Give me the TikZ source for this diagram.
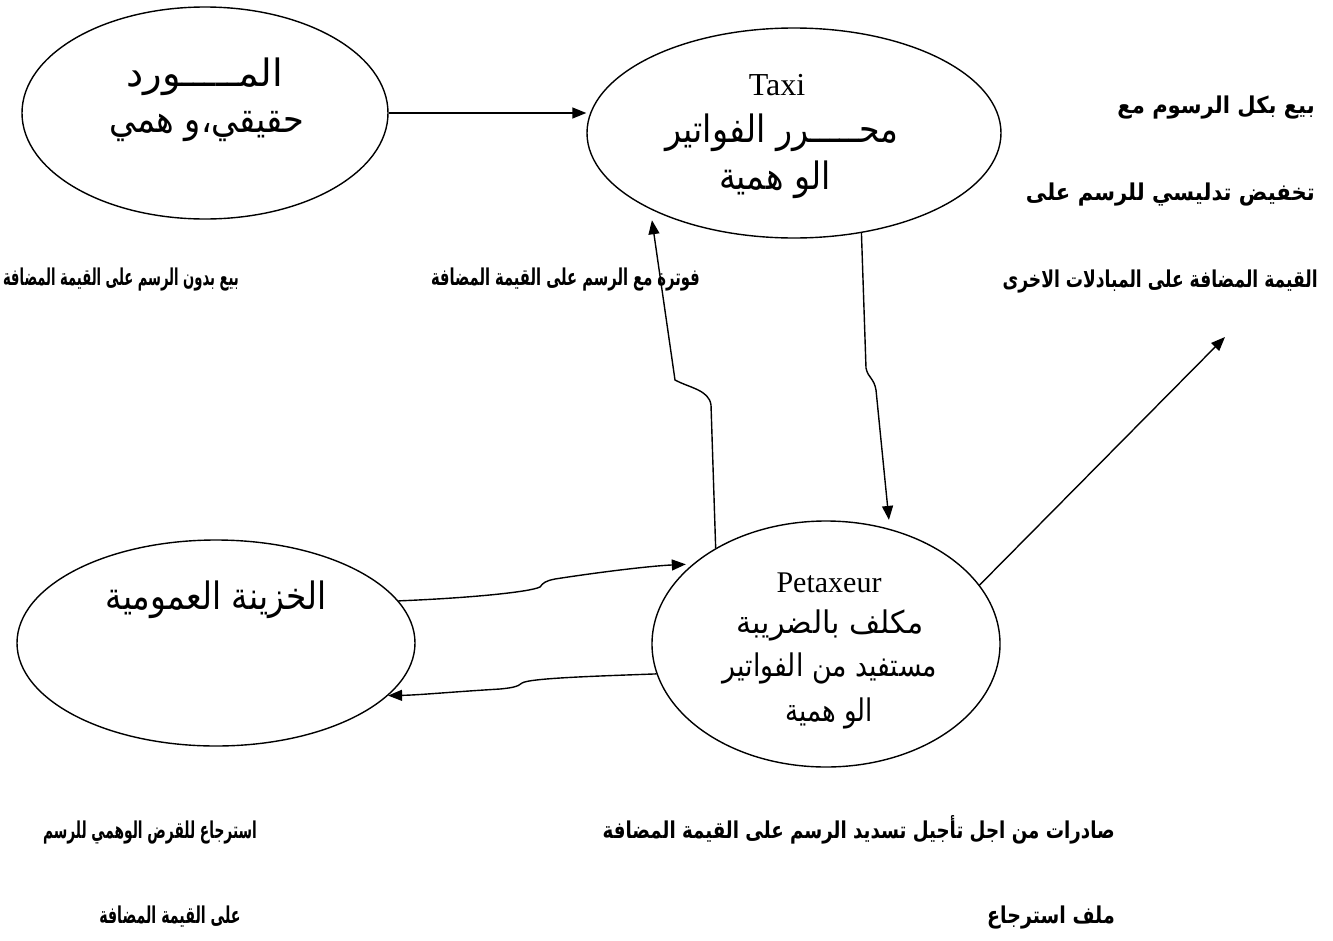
\documentclass[tikz,border=0pt]{standalone}
\usepackage{fontspec}
\usepackage{graphicx}
\setmainfont{Liberation Serif}
\newfontfamily\arabicfont[Script=Arabic]{DejaVu Sans}
\TeXXeTstate=1
\usetikzlibrary{shapes.geometric,arrows.meta}
\begin{document}
\begin{tikzpicture}[x=1pt,y=-1pt,
  oval/.style={draw, ellipse, line width=1.4pt, inner sep=0pt},
  flow/.style={line width=1.4pt, -{Triangle[length=14pt,width=11pt]}},
  big/.style={font=\fontsize{26}{30}\selectfont\arabicfont, inner sep=0pt},
  latin/.style={font=\fontsize{32}{36}\selectfont, inner sep=0pt},
  lbl/.style={font=\fontsize{16}{19}\selectfont\bfseries\arabicfont, inner sep=0pt}]
\useasboundingbox (0,0) rectangle (1333,940);
% ellipses
\node[oval, minimum width=366pt, minimum height=212pt] (sup) at (205,113) {};
\node[oval, minimum width=414pt, minimum height=210pt] (taxi) at (794,133) {};
\node[oval, minimum width=398pt, minimum height=206pt] (khaz) at (216,643) {};
\node[oval, minimum width=348pt, minimum height=246pt] (pet) at (826,644) {};
% ellipse texts
\node[big] (sup1) at (205,77) {\scalebox{1.48}[1.45]{\beginR المـــــورد\endR}};
\node[big] (sup2) at (207,127) {\scalebox{1.29}[1.45]{\beginR حقيقي،و همي\endR}};
\node[latin] (taxi0) at (777,85) {Taxi};
\node[big] (taxi1) at (782,133) {\scalebox{1.28}[1.45]{\beginR محـــــرر الفواتير\endR}};
\node[big] (taxi2) at (775,180) {\scalebox{1.28}[1.45]{\beginR الو همية\endR}};
\node[big] (khaz1) at (216,600) {\scalebox{1.26}[1.45]{\beginR الخزينة العمومية\endR}};
\node[latin, font=\fontsize{30}{34}\selectfont] (pet0) at (829,583) {Petaxeur};
\node[big] (pet1) at (830,625) {\scalebox{1.16}[1.2]{\beginR مكلف بالضريبة\endR}};
\node[big] (pet2) at (830,668) {\scalebox{1.03}[1.2]{\beginR مستفيد من الفواتير\endR}};
\node[big] (pet3) at (829,713) {\scalebox{1.0}[1.2]{\beginR الو همية\endR}};
% labels
\node[lbl] (l1) at (121,280) {\scalebox{0.82}[1.45]{\beginR بيع بدون الرسم على القيمة المضافة\endR}};
\node[lbl, anchor=east] (l2) at (700,280) {\scalebox{0.92}[1.45]{\beginR فوترة مع الرسم على القيمة المضافة\endR}};
\node[lbl, anchor=east] (r1) at (1315,108) {\scalebox{1.32}[1.45]{\beginR بيع بكل الرسوم مع\endR}};
\node[lbl, anchor=east] (r2) at (1315,195) {\scalebox{1.32}[1.45]{\beginR تخفيض تدليسي للرسم على\endR}};
\node[lbl, anchor=east] (r3) at (1318,282) {\scalebox{1.07}[1.45]{\beginR القيمة المضافة على المبادلات الاخرى\endR}};
\node[lbl] (b1) at (150,833) {\scalebox{0.86}[1.45]{\beginR استرجاع للقرض الوهمي للرسم\endR}};
\node[lbl] (b2) at (170,917) {\scalebox{0.89}[1.45]{\beginR على القيمة المضافة\endR}};
\node[lbl, anchor=east] (b3) at (1115,830) {\scalebox{1.14}[1.45]{\beginR صادرات من اجل تأجيل تسديد الرسم على القيمة المضافة\endR}};
\node[lbl, anchor=east] (b4) at (1115,918) {\scalebox{1.19}[1.45]{\beginR ملف استرجاع\endR}};
% connectors
\coordinate (ne) at (1225,337);
\draw[flow] (sup.east) -- (sup.east -| taxi.west);
\draw[flow, shorten >=11pt] (pet.139) -- (711,405) .. controls (709,390) and (690,388) .. (675,380) -- (taxi.208.4);
\draw[flow, shorten >=9pt] (taxi.-56.6) -- (866,368) .. controls (868,378) and (874,378) .. (876,390) -- (pet.61.8);
\draw[flow, shorten >=7pt] (khaz.13) .. controls (470,598) and (530,592) .. (540,587) .. controls (543,583) and (545,581) .. (555,579) .. controls (600,572) and (650,566) .. (pet.149.3);
\draw[flow] (pet.190) .. controls (600,676) and (530,678) .. (522,683) .. controls (518,687) and (510,688) .. (500,689) .. controls (450,692) and (420,695) .. (khaz.-17.7);
\draw[flow] (pet.21) -- (ne);
\end{tikzpicture}
\end{document}
